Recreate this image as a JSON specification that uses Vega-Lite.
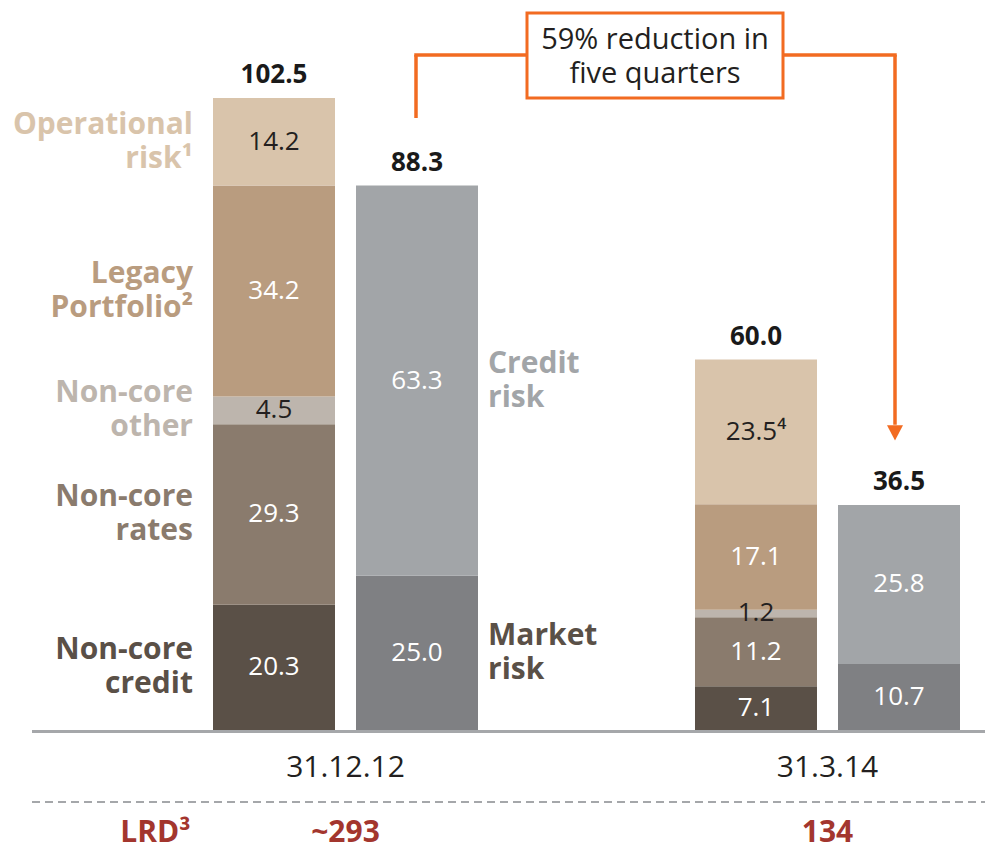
{
  "$schema": "https://vega.github.io/schema/vega-lite/v6.json",
  "width": 985,
  "height": 730,
  "autosize": "none",
  "padding": {"left": 0, "top": 0, "right": 0, "bottom": 126},
  "background": "white",
  "config": {"view": {"stroke": null}, "font": "Open Sans"},
  "datasets": {
    "rwa": [
      {"date": "31.12.12", "view": "Business", "category": "Non-core credit", "value": 20.3, "side": "Non-core\ncredit"},
      {"date": "31.12.12", "view": "Business", "category": "Non-core rates", "value": 29.3, "side": "Non-core\nrates"},
      {"date": "31.12.12", "view": "Business", "category": "Non-core other", "value": 4.5, "side": "Non-core\nother"},
      {"date": "31.12.12", "view": "Business", "category": "Legacy Portfolio", "value": 34.2, "side": "Legacy\nPortfolio²"},
      {"date": "31.12.12", "view": "Business", "category": "Operational risk", "value": 14.2, "side": "Operational\nrisk¹"},
      {"date": "31.12.12", "view": "Risk", "category": "Market risk", "value": 25.0, "side": "Market\nrisk"},
      {"date": "31.12.12", "view": "Risk", "category": "Credit risk", "value": 63.3, "side": "Credit\nrisk"},
      {"date": "31.3.14", "view": "Business", "category": "Non-core credit", "value": 7.1},
      {"date": "31.3.14", "view": "Business", "category": "Non-core rates", "value": 11.2},
      {"date": "31.3.14", "view": "Business", "category": "Non-core other", "value": 1.2},
      {"date": "31.3.14", "view": "Business", "category": "Legacy Portfolio", "value": 17.1},
      {"date": "31.3.14", "view": "Business", "category": "Operational risk", "value": 23.5, "note": "⁴"},
      {"date": "31.3.14", "view": "Risk", "category": "Market risk", "value": 10.7},
      {"date": "31.3.14", "view": "Risk", "category": "Credit risk", "value": 25.8}
    ],
    "totals": [
      {"date": "31.12.12", "view": "Business", "total": 102.5},
      {"date": "31.12.12", "view": "Risk", "total": 88.3},
      {"date": "31.3.14", "view": "Business", "total": 60.0},
      {"date": "31.3.14", "view": "Risk", "total": 36.5}
    ],
    "lrd": [
      {"date": "31.12.12", "lrd": "~293"},
      {"date": "31.3.14", "lrd": "134"}
    ]
  },
  "resolve": {"scale": {"x": "independent"}},
  "layer": [
    {
      "data": {"values": [{}]},
      "layer": [
        {
          "mark": {"type": "rule", "color": "#a5a7aa", "strokeWidth": 3},
          "encoding": {
            "x": {"datum": 32, "type": "quantitative", "scale": {"domain": [0, 985], "range": [0, 985]}, "axis": null},
            "x2": {"datum": 985},
            "y": {"datum": -0.24, "type": "quantitative", "scale": {"domain": [0, 118.39], "nice": false, "zero": false}, "axis": null}
          }
        },
        {
          "mark": {"type": "rule", "color": "#a5a7aa", "strokeWidth": 2, "strokeDash": [8, 5]},
          "encoding": {
            "x": {"datum": 32, "type": "quantitative", "scale": {"domain": [0, 985], "range": [0, 985]}, "axis": null},
            "x2": {"datum": 985},
            "y": {"datum": -11.68, "type": "quantitative", "scale": {"domain": [0, 118.39], "nice": false, "zero": false}, "axis": null}
          }
        }
      ]
    },
    {
      "data": {"name": "rwa"},
      "transform": [
        {"calculate": "indexof(['Non-core credit','Non-core rates','Non-core other','Legacy Portfolio','Operational risk','Market risk','Credit risk'], datum.category)", "as": "rank"},
        {"stack": "value", "groupby": ["date", "view"], "sort": [{"field": "rank", "order": "ascending"}], "as": ["y0", "y1"]},
        {"calculate": "(datum.y0 + datum.y1) / 2", "as": "mid"},
        {"calculate": "format(datum.value, '.1f') + (datum.note ? datum.note : '')", "as": "label"}
      ],
      "encoding": {
        "x": {
          "field": "date", "type": "nominal",
          "scale": {"type": "band", "domain": ["31.12.12", "31.3.14"], "range": [213, 960], "paddingInner": 0.4502, "paddingOuter": 0},
          "axis": {"title": null, "domain": false, "ticks": false, "tickSize": 0, "labelFontSize": 30, "labelPadding": 22, "labelColor": "#231f20", "labelFont": "Open Sans", "labelAngle": 0}
        },
        "xOffset": {"field": "view", "type": "nominal", "scale": {"domain": ["Business", "Risk"], "paddingInner": 0.1469, "paddingOuter": 0}}
      },
      "layer": [
        {
          "mark": {"type": "bar"},
          "encoding": {
            "y": {"field": "y1", "type": "quantitative", "scale": {"domain": [0, 118.39], "nice": false, "zero": false}, "axis": null},
            "y2": {"field": "y0"},
            "color": {
              "field": "category", "type": "nominal", "legend": null,
              "scale": {
                "domain": ["Operational risk", "Legacy Portfolio", "Non-core other", "Non-core rates", "Non-core credit", "Credit risk", "Market risk"],
                "range": ["#d9c4ab", "#b99c7f", "#bdb5ad", "#8a7b6d", "#5a5047", "#a2a5a8", "#7f8083"]
              }
            }
          }
        },
        {
          "mark": {"type": "text", "fontSize": 26, "baseline": "middle", "align": "center"},
          "encoding": {
            "y": {"field": "mid", "type": "quantitative", "scale": {"domain": [0, 118.39], "nice": false, "zero": false}, "axis": null},
            "text": {"field": "label"},
            "color": {"condition": {"test": "datum.category === 'Operational risk' || datum.category === 'Non-core other'", "value": "#231f20"}, "value": "#ffffff"}
          }
        },
        {
          "transform": [{"filter": "isValid(datum.side) && datum.view === 'Business'"}],
          "mark": {"type": "text", "fontSize": 30, "fontWeight": "bold", "baseline": "middle", "align": "right", "dx": -81, "dy": -17, "lineBreak": "\n", "lineHeight": 34},
          "encoding": {
            "y": {"field": "mid", "type": "quantitative", "scale": {"domain": [0, 118.39], "nice": false, "zero": false}, "axis": null},
            "text": {"field": "side"},
            "color": {"field": "category", "type": "nominal", "legend": null}
          }
        },
        {
          "transform": [{"filter": "isValid(datum.side) && datum.view === 'Risk'"}],
          "mark": {"type": "text", "fontSize": 30, "fontWeight": "bold", "baseline": "middle", "align": "left", "dx": 71, "dy": -17, "lineBreak": "\n", "lineHeight": 34},
          "encoding": {
            "y": {"field": "mid", "type": "quantitative", "scale": {"domain": [0, 118.39], "nice": false, "zero": false}, "axis": null},
            "text": {"field": "side"},
            "color": {"field": "category", "type": "nominal", "legend": null, "condition": {"test": "datum.category === 'Market risk'", "value": "#5a5047"}}
          }
        }
      ]
    },
    {
      "data": {"name": "totals"},
      "mark": {"type": "text", "fontSize": 26, "fontWeight": "bold", "baseline": "alphabetic", "align": "center", "dy": -15, "color": "#1a1a1a"},
      "encoding": {
        "x": {"field": "date", "type": "nominal", "scale": {"type": "band", "domain": ["31.12.12", "31.3.14"], "range": [213, 960], "paddingInner": 0.4502, "paddingOuter": 0}, "axis": null},
        "xOffset": {"field": "view", "type": "nominal", "scale": {"domain": ["Business", "Risk"], "paddingInner": 0.1469, "paddingOuter": 0}},
        "y": {"field": "total", "type": "quantitative", "scale": {"domain": [0, 118.39], "nice": false, "zero": false}, "axis": null},
        "text": {"field": "total", "type": "quantitative", "format": ".1f"}
      }
    },
    {
      "data": {"name": "lrd"},
      "mark": {"type": "text", "fontSize": 30, "fontWeight": "bold", "baseline": "middle", "align": "center", "color": "#a3362e"},
      "encoding": {
        "x": {"field": "date", "type": "nominal", "scale": {"type": "band", "domain": ["31.12.12", "31.3.14"], "range": [213, 960], "paddingInner": 0.4502, "paddingOuter": 0}, "axis": null},
        "y": {"datum": -16.7, "type": "quantitative", "scale": {"domain": [0, 118.39], "nice": false, "zero": false}, "axis": null},
        "text": {"field": "lrd"}
      }
    },
    {
      "data": {"values": [{}]},
      "mark": {"type": "text", "fontSize": 30, "fontWeight": "bold", "baseline": "middle", "align": "center", "color": "#a3362e", "text": "LRD³", "dx": -190},
      "encoding": {
        "x": {"datum": "31.12.12", "type": "nominal", "scale": {"type": "band", "domain": ["31.12.12", "31.3.14"], "range": [213, 960], "paddingInner": 0.4502, "paddingOuter": 0}, "axis": null},
        "y": {"datum": -16.7, "type": "quantitative", "scale": {"domain": [0, 118.39], "nice": false, "zero": false}, "axis": null}
      }
    },
    {
      "data": {"values": [{}]},
      "encoding": {
        "x": {"type": "quantitative", "scale": {"domain": [0, 985], "range": [0, 985]}, "axis": null}
      },
      "layer": [
        {
          "mark": {"type": "rule", "color": "#f26b21", "strokeWidth": 3.5, "strokeCap": "square"},
          "encoding": {
            "x": {"datum": 416, "type": "quantitative", "scale": {"domain": [0, 985], "range": [0, 985]}, "axis": null},
            "x2": {"datum": 895},
            "y": {"datum": 109.47, "type": "quantitative", "scale": {"domain": [0, 118.39], "nice": false, "zero": false}, "axis": null}
          }
        },
        {
          "mark": {"type": "rule", "color": "#f26b21", "strokeWidth": 3.5},
          "encoding": {
            "x": {"datum": 416, "type": "quantitative", "scale": {"domain": [0, 985], "range": [0, 985]}, "axis": null},
            "y": {"datum": 109.47, "type": "quantitative", "scale": {"domain": [0, 118.39], "nice": false, "zero": false}, "axis": null},
            "y2": {"datum": 99.25}
          }
        },
        {
          "mark": {"type": "rule", "color": "#f26b21", "strokeWidth": 3.5},
          "encoding": {
            "x": {"datum": 895, "type": "quantitative", "scale": {"domain": [0, 985], "range": [0, 985]}, "axis": null},
            "y": {"datum": 109.47, "type": "quantitative", "scale": {"domain": [0, 118.39], "nice": false, "zero": false}, "axis": null},
            "y2": {"datum": 49.5}
          }
        },
        {
          "mark": {"type": "point", "filled": true, "color": "#f26b21", "opacity": 1, "shape": "M-1,-0.9L1,-0.9L0,1Z", "size": 256},
          "encoding": {
            "x": {"datum": 895, "type": "quantitative", "scale": {"domain": [0, 985], "range": [0, 985]}, "axis": null},
            "y": {"datum": 48.25, "type": "quantitative", "scale": {"domain": [0, 118.39], "nice": false, "zero": false}, "axis": null}
          }
        },
        {
          "mark": {"type": "rect", "fill": "#ffffff", "stroke": "#f26b21", "strokeWidth": 3},
          "encoding": {
            "x": {"datum": 527, "type": "quantitative", "scale": {"domain": [0, 985], "range": [0, 985]}, "axis": null},
            "x2": {"datum": 783},
            "y": {"datum": 116.28, "type": "quantitative", "scale": {"domain": [0, 118.39], "nice": false, "zero": false}, "axis": null},
            "y2": {"datum": 102.5}
          }
        },
        {
          "mark": {"type": "text", "fontSize": 29, "baseline": "middle", "align": "center", "color": "#231f20", "lineHeight": 34, "dy": -17, "text": ["59% reduction in", "five quarters"]},
          "encoding": {
            "x": {"datum": 655, "type": "quantitative", "scale": {"domain": [0, 985], "range": [0, 985]}, "axis": null},
            "y": {"datum": 109.15, "type": "quantitative", "scale": {"domain": [0, 118.39], "nice": false, "zero": false}, "axis": null}
          }
        }
      ]
    }
  ]
}
